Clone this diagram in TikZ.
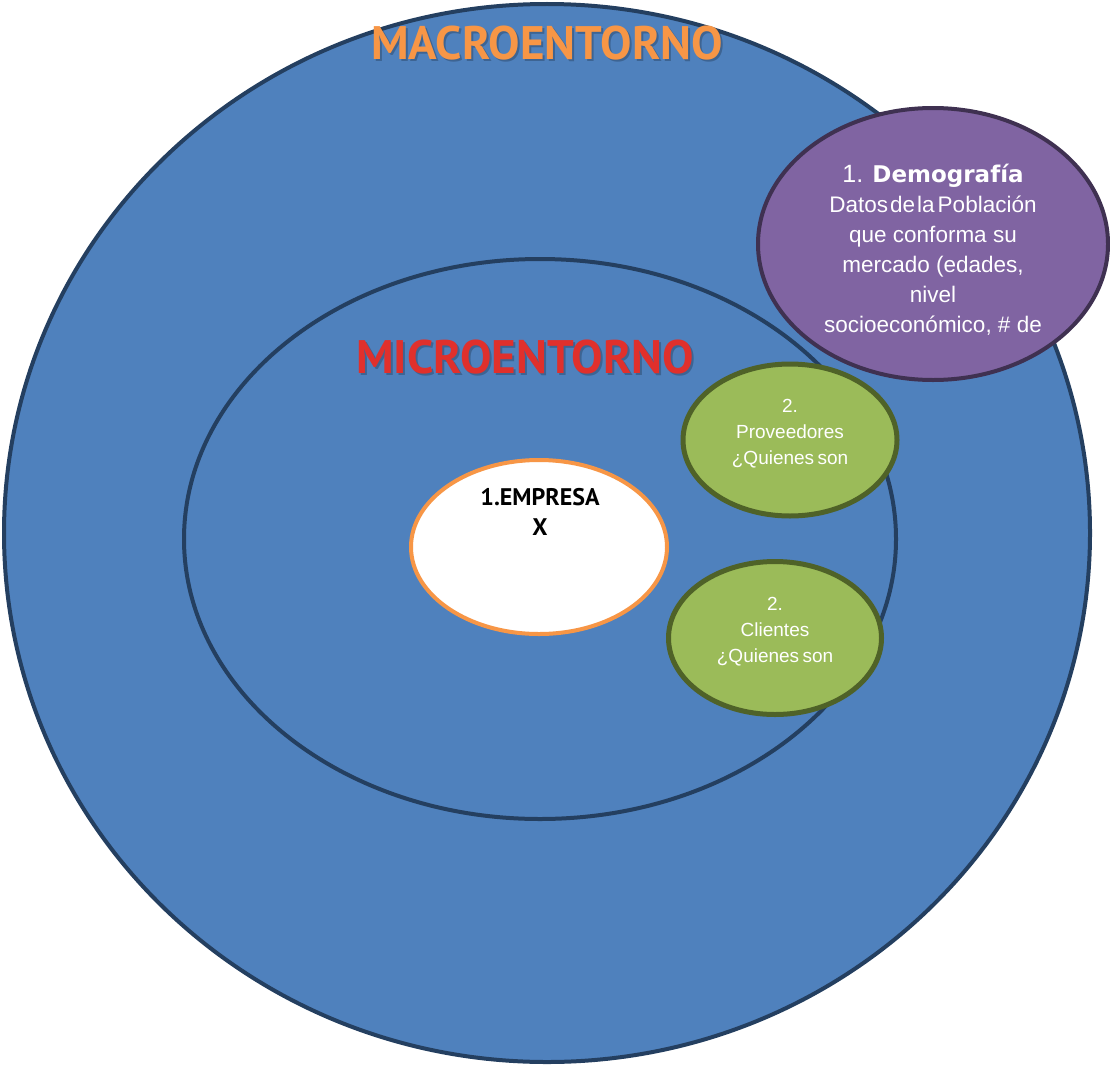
\documentclass[tikz,border=0pt]{standalone}
\usepackage{fontspec}
\setmainfont{Liberation Sans}
\newfontfamily\titlefont{PT Sans}
\newfontfamily\headfont{DejaVu Sans}
\usetikzlibrary{shapes.geometric,calc}
\definecolor{ringblue}{HTML}{4F81BD}
\definecolor{ringline}{HTML}{243F60}
\definecolor{macro}{HTML}{F79646}
\definecolor{micro}{HTML}{E0302C}
\definecolor{demo}{HTML}{8064A2}
\definecolor{demoline}{HTML}{3F3151}
\definecolor{leaf}{HTML}{9BBB59}
\definecolor{leafline}{HTML}{4F6228}

\begin{document}
\begin{tikzpicture}[x=1pt,y=-1pt,
      ring/.style={ellipse,draw=ringline,fill=ringblue,line width=4pt,inner sep=0pt},
      core/.style={ellipse,draw=macro,fill=white,line width=4pt,inner sep=0pt},
      demobox/.style={ellipse,draw=demoline,fill=demo,line width=4pt,inner sep=0pt},
      leafbox/.style={ellipse,draw=leafline,fill=leaf,line width=5pt,inner sep=0pt},
      title/.style={font=\titlefont\bfseries\fontsize{47}{50}\selectfont},
      shade/.style={title,text=black,opacity=0.22},
      txt/.style={text=white,align=center,inner sep=0pt}]
    \useasboundingbox (0,0) rectangle (1110,1065);
    % rings
    \node[ring,minimum width=1086pt,minimum height=1058pt](macro) at (547,533){};
    \node[ring,minimum width=712pt,minimum height=560pt](micro) at (540,539){};
    \node[core,minimum width=256pt,minimum height=174pt](emp) at (539,547){};
    % bubbles
    \node[demobox,minimum width=350pt,minimum height=272pt](demo) at (933,244){};
    \node[leafbox,minimum width=214pt,minimum height=152pt](prov) at (790,440){};
    \node[leafbox,minimum width=213pt,minimum height=153pt](cli) at (775,638){};
    % labels
    \node[shade](macros) at ($(macro.north)+(2,43)$){MACROENTORNO};
    \node[title,text=macro](macrot) at ($(macro.north)+(0,41)$){MACROENTORNO};
    \node[shade](micros) at ($(micro.north)+(-13,102)$){MICROENTORNO};
    \node[title,text=micro](microt) at ($(micro.north)+(-15,100)$){MICROENTORNO};
    \node[align=center,inner sep=0pt,font=\titlefont\bfseries\fontsize{24}{30}\selectfont](empt)
      at ($(emp.center)+(1,-35)$){1.EMPRESA\\X};
    \node[txt,font=\fontsize{22.5}{30}\selectfont](demot) at ($(demo.center)+(0,6)$)
      {{\fontsize{25}{30}\selectfont 1. {\headfont\bfseries\fontsize{23}{30}\selectfont Demografía}}\\
       Datos\kern2pt de\kern2pt la\kern3pt Población\\que conforma su\\mercado (edades,\\nivel\\socioeconómico, \# de};
    \node[txt,font=\fontsize{19}{26}\selectfont](provt) at ($(prov.center)+(0,-6)$)
      {2.\\Proveedores\\¿Quienes\kern-2pt\ son};
    \node[txt,font=\fontsize{19}{26}\selectfont](clit) at ($(cli.center)+(0,-6)$)
      {2.\\Clientes\\¿Quienes\kern-2pt\ son};
  \end{tikzpicture}
\end{document}
